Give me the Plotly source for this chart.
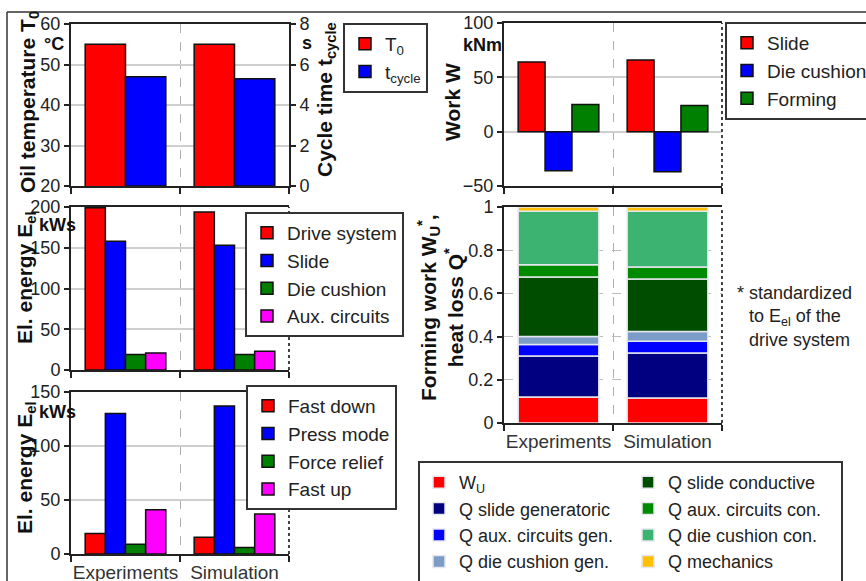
import plotly.graph_objects as go

W, H = 866, 581
FONT = "Liberation Sans, Arial, sans-serif"

categories = ["Experiments", "Simulation"]

# Panel 1: oil temperature / cycle time
oil_temperature = [55, 55]
cycle_time = [5.4, 5.3]

# Panel 2: electrical energy by consumer
el_drive_system = [199, 194]
el_slide = [158, 153]
el_die_cushion = [19, 19]
el_aux_circuits = [21, 23]

# Panel 3: electrical energy by phase
el_fast_down = [19, 15.5]
el_press_mode = [130, 137]
el_force_relief = [9, 6]
el_fast_up = [41, 37]

# Panel 4: work
work_slide = [64, 66]
work_die_cushion = [-36, -37]
work_forming = [25, 24]

# Panel 5: standardized forming work / heat losses
wu = [0.12, 0.116]
q_slide_gen = [0.19, 0.208]
q_aux_gen = [0.054, 0.054]
q_die_gen = [0.037, 0.046]
q_slide_con = [0.275, 0.243]
q_aux_con = [0.057, 0.055]
q_die_con = [0.247, 0.258]
q_mechanics = [0.02, 0.02]


def px(x):
    return x / W


def py(y):
    return 1 - y / H


fig = go.Figure()
edge = dict(color="#111", width=1.5)


def bar(name, y, color, xa, ya, leg, og=None, ag=None, line=edge):
    kw = dict(x=categories, y=y, name=name, marker=dict(color=color, line=line),
              xaxis=xa, yaxis=ya, legend=leg, hoverinfo="y+name")
    if og is not None:
        kw["offsetgroup"] = og
    if ag is not None:
        kw["alignmentgroup"] = ag
    fig.add_trace(go.Bar(**kw))


# Panel 1
bar("T<sub>0</sub>", oil_temperature, "#FF0000", "x", "y", "legend", "a", "p1")
bar("t<sub>cycle</sub>", cycle_time, "#0000FF", "x", "y2", "legend", "b", "p1")

# Panel 2
bar("Drive system", el_drive_system, "#FF0000", "x2", "y3", "legend2", "a")
bar("Slide", el_slide, "#0000FF", "x2", "y3", "legend2", "b")
bar("Die cushion", el_die_cushion, "#008000", "x2", "y3", "legend2", "c")
bar("Aux. circuits", el_aux_circuits, "#FF00FF", "x2", "y3", "legend2", "d")

# Panel 3
bar("Fast down", el_fast_down, "#FF0000", "x3", "y4", "legend3", "a")
bar("Press mode", el_press_mode, "#0000FF", "x3", "y4", "legend3", "b")
bar("Force relief", el_force_relief, "#008000", "x3", "y4", "legend3", "c")
bar("Fast up", el_fast_up, "#FF00FF", "x3", "y4", "legend3", "d")

# Panel 4
bar("Slide", work_slide, "#FF0000", "x4", "y5", "legend4", "a")
bar("Die cushion", work_die_cushion, "#0000FF", "x4", "y5", "legend4", "b")
bar("Forming", work_forming, "#008000", "x4", "y5", "legend4", "c")

# Panel 5 (stacked)
thin = dict(color="#e6e6ee", width=1.5)
bar("W<sub>U</sub>", wu, "#FF0000", "x5", "y6", "legend5", line=thin)
bar("Q slide generatoric", q_slide_gen, "#000080", "x5", "y6", "legend5", line=thin)
bar("Q aux. circuits gen.", q_aux_gen, "#0000FF", "x5", "y6", "legend5", line=thin)
bar("Q die cushion gen.", q_die_gen, "#7B9CC6", "x5", "y6", "legend5", line=thin)
bar("Q slide conductive", q_slide_con, "#004D00", "x5", "y6", "legend6", line=thin)
bar("Q aux. circuits con.", q_aux_con, "#008A00", "x5", "y6", "legend6", line=thin)
bar("Q die cushion con.", q_die_con, "#3CB371", "x5", "y6", "legend6", line=thin)
bar("Q mechanics", q_mechanics, "#FFC000", "x5", "y6", "legend6", line=thin)

tickfont = dict(family=FONT, size=18, color="#222")


def xax(x0, x1, anchor, labels):
    return dict(domain=[px(x0), px(x1)], anchor=anchor, type="category",
                categoryorder="array", categoryarray=categories, range=[-0.5, 1.5],
                showline=True, linecolor="#222", linewidth=2, mirror=True,
                ticks="outside", ticklen=6, tickwidth=1.5, tickcolor="#222",
                tickson="boundaries", showgrid=True, gridcolor="#b0b0b0",
                griddash="dash", gridwidth=1, showticklabels=labels, tickangle=0,
                tickfont=dict(family=FONT, size=19, color="#333"), fixedrange=True)


def yax(y0, y1, anchor, rng, dtick, **extra):
    d = dict(domain=[py(y1), py(y0)], anchor=anchor, range=rng, dtick=dtick,
             showline=True, linecolor="#222", linewidth=2, ticks="outside",
             ticklen=5, tickwidth=1.5, tickcolor="#222", showgrid=True,
             gridcolor="#cfcfcf", gridwidth=1.5, zeroline=False,
             tickfont=tickfont, fixedrange=True)
    d.update(extra)
    return d


legbase = dict(bgcolor="white", bordercolor="#333", borderwidth=2,
               font=dict(family=FONT, size=19, color="#222"),
               xanchor="left", yanchor="top", traceorder="normal",
               itemclick=False, itemdoubleclick=False)


def leg(x, y, **extra):
    d = dict(legbase)
    d.update(x=px(x), y=py(y))
    d.update(extra)
    return d


shapes = [
    # outer frame lines
    dict(type="line", xref="paper", yref="paper", x0=px(7), x1=1, y0=py(12), y1=py(12),
         line=dict(color="#333", width=1.5)),
    dict(type="line", xref="paper", yref="paper", x0=px(7), x1=px(7), y0=0, y1=py(12),
         line=dict(color="#333", width=1.5)),
    # box around the two-column legend of the stacked panel
    dict(type="rect", xref="paper", yref="paper", x0=px(419), x1=px(842), y0=py(592), y1=py(462),
         line=dict(color="#333", width=2), fillcolor="white", layer="above"),
]
for xa, ya in [("x2", "y3"), ("x3", "y4"), ("x4", "y5"), ("x5", "y6")]:
    shapes.append(dict(type="line", xref=xa + " domain", yref=ya + " domain",
                       x0=1, x1=1, y0=0, y1=1, line=dict(color="#444", width=2, dash="dot")))

title_font = dict(family=FONT, size=21, color="#111")
unit_font = dict(family=FONT, size=18, color="#111")


def vtitle(text, x, y):
    return dict(text=text, x=px(x), y=py(y), xref="paper", yref="paper", showarrow=False,
                textangle=-90, xanchor="center", yanchor="middle", font=title_font)


def unit(text, x, y):
    return dict(text="<b>" + text + "</b>", x=px(x), y=py(y), xref="paper", yref="paper",
                showarrow=False, xanchor="center", yanchor="middle", font=unit_font)


annotations = [
    vtitle("<b>Oil temperature T<sub>0</sub></b>", 29, 102),
    vtitle("<b>Cycle time t<sub>cycle</sub></b>", 326, 100),
    vtitle("<b>El. energy E<sub>el</sub></b>", 26, 278),
    vtitle("<b>El. energy E<sub>el</sub></b>", 26, 468),
    vtitle("<b>Work W</b>", 452, 102),
    vtitle("<b>Forming work W<sub>U</sub><sup>*</sup>,<br>heat loss Q<sup>*</sup></b>", 440, 308),
    unit("°C", 54, 44),
    unit("s", 307, 43),
    unit("kWs", 57, 225),
    unit("kWs", 57, 412),
    unit("kNm", 482, 45),
    dict(text="*", x=px(735), y=py(281), xref="paper", yref="paper", showarrow=False,
         xanchor="left", yanchor="top", font=dict(family=FONT, size=18, color="#222")),
    dict(text="standardized<br>to E<sub>el</sub> of the<br>drive system", x=px(747), y=py(281),
         xref="paper", yref="paper", showarrow=False, xanchor="left", yanchor="top",
         align="left", font=dict(family=FONT, size=18, color="#222")),
]

col_leg = dict(bgcolor="rgba(0,0,0,0)", borderwidth=0,
               font=dict(family=FONT, size=18, color="#222"))

fig.update_layout(
    width=W, height=H,
    margin=dict(l=0, r=0, t=0, b=0, autoexpand=False),
    paper_bgcolor="white", plot_bgcolor="white",
    barmode="relative", bargap=0.26, bargroupgap=0,
    font=dict(family=FONT, color="#222"),
    xaxis=xax(71, 289, "y", False),
    yaxis=yax(24, 186, "x", [20, 60], 10),
    yaxis2=dict(overlaying="y", side="right", anchor="x", range=[0, 8], dtick=2,
                showline=True, linecolor="#222", linewidth=2, ticks="outside",
                ticklen=5, tickwidth=1.5, tickcolor="#222", showgrid=False,
                zeroline=False, tickfont=tickfont, fixedrange=True),
    xaxis2=xax(71, 289, "y3", False),
    yaxis3=yax(207, 370, "x2", [0, 200], 50),
    xaxis3=xax(71, 289, "y4", True),
    yaxis4=yax(392, 554, "x3", [0, 150], 50),
    xaxis4=xax(504, 722, "y5", False),
    yaxis5=yax(23, 186, "x4", [-50, 100], 50),
    xaxis5=xax(504, 722, "y6", True),
    yaxis6=yax(207, 423, "x5", [0, 1], None, tickvals=[0, 0.2, 0.4, 0.6, 0.8, 1],
               ticktext=["0", "0.2", "0.4", "0.6", "0.8", "1"], griddash="dash",
               gridcolor="#bdbdbd", gridwidth=1),
    legend=leg(343, 23),
    legend2=leg(245, 212),
    legend3=leg(246, 385),
    legend4=leg(725, 22),
    legend5=leg(419, 464, **col_leg),
    legend6=leg(628, 464, **col_leg),
    shapes=shapes,
    annotations=annotations,
    showlegend=True,
)

fig.write_html("out.html", config={"displayModeBar": False},
               post_script="document.body.style.margin='0px';")
